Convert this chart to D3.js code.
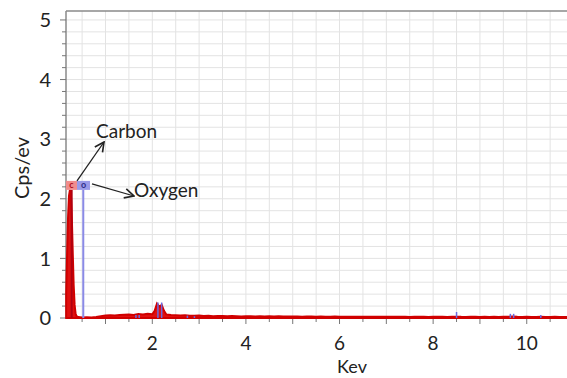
<!DOCTYPE html>
<html>
<head>
<meta charset="utf-8">
<script src="https://cdn.jsdelivr.net/npm/d3@7"></script>
<style>
  body { margin: 0; background: #fff; }
  text { font-family: Lato, "Open Sans", sans-serif; fill: #222; }
</style>
</head>
<body>
<svg width="567" height="378"></svg>
<script>
// spectrum (keV, counts per eV)
const kev = [0.16, 0.18, 0.20, 0.22, 0.24, 0.26, 0.28, 0.30, 0.32, 0.34, 0.36, 0.38, 0.42,
  0.5, 0.6, 0.7, 0.8, 0.9, 1.0, 1.1, 1.2, 1.3, 1.4, 1.5, 1.6, 1.7, 1.8, 1.9, 2.0,
  2.05, 2.1, 2.15, 2.2, 2.25, 2.3, 2.4, 2.5, 2.6, 2.7, 2.8, 2.9, 3.0,
  3.1, 3.2, 3.3, 3.4, 3.5, 3.6, 3.7, 3.8, 3.9, 4.0, 4.1, 4.2, 4.3, 4.4, 4.5, 4.6, 4.7, 4.8, 4.9, 5.0,
  5.1, 5.2, 5.3, 5.4, 5.5, 5.6, 5.7, 5.8, 5.9, 6.0, 6.1, 6.2, 6.3, 6.4, 6.5, 6.6, 6.7, 6.8, 6.9, 7.0,
  7.1, 7.2, 7.3, 7.4, 7.5, 7.6, 7.7, 7.8, 7.9, 8.0, 8.1, 8.2, 8.3, 8.4, 8.5, 8.6, 8.7, 8.8, 8.9, 9.0,
  9.1, 9.2, 9.3, 9.4, 9.5, 9.6, 9.7, 9.8, 9.9, 10.0, 10.1, 10.2, 10.3, 10.4, 10.5, 10.6, 10.7, 10.8, 10.9]
const cps = [0.4, 1.1, 1.7, 2.05, 2.15, 2.1, 1.7, 1.1, 0.55, 0.22, 0.08, 0.03, 0.015,
  0.01, 0.012, 0.01, 0.018, 0.03, 0.04, 0.045, 0.04, 0.05, 0.055, 0.06, 0.052, 0.066, 0.058, 0.07, 0.062,
  0.12, 0.24, 0.19, 0.22, 0.12, 0.06, 0.05, 0.045, 0.04, 0.047, 0.038, 0.036, 0.04,
  0.034, 0.037, 0.03, 0.035, 0.032, 0.028, 0.033, 0.03, 0.027, 0.031, 0.029, 0.026, 0.03, 0.027, 0.029, 0.025, 0.028, 0.026, 0.024, 0.027,
  0.025, 0.023, 0.026, 0.024, 0.022, 0.025, 0.023, 0.021, 0.024, 0.022, 0.02, 0.023, 0.021, 0.022, 0.02, 0.023, 0.021, 0.019, 0.022, 0.02,
  0.021, 0.019, 0.022, 0.02, 0.018, 0.021, 0.019, 0.02, 0.018, 0.021, 0.019, 0.02, 0.018, 0.02, 0.022, 0.019, 0.018, 0.02, 0.019, 0.018,
  0.02, 0.018, 0.019, 0.017, 0.02, 0.022, 0.024, 0.02, 0.018, 0.019, 0.017, 0.018, 0.02, 0.018, 0.017, 0.019, 0.018, 0.017, 0.018]

// thin blue spikes
const spikeKev = [1.65, 1.72, 2.12, 2.2, 2.75, 2.9, 8.5, 9.65, 9.72, 10.3]
const spikeCps = [0.05, 0.05, 0.26, 0.26, 0.04, 0.03, 0.1, 0.07, 0.07, 0.05]

// element markers
const elements = ["C", "O"]
const elementKev = [0.277, 0.525]
const elementNames = ["Carbon", "Oxygen"]

const xTicks = [2, 4, 6, 8, 10]
const yTicks = [0, 1, 2, 3, 4, 5]

const svg = d3.select("svg")
const x = d3.scaleLinear().domain([0.156, 10.86]).range([66, 567])
const y = d3.scaleLinear().domain([0, 5.15]).range([318, 11])

// grid
svg.append("g")
  .selectAll("line")
  .data(d3.range(0.5, 10.9, 0.5)).enter()
  .append("line")
  .attr("x1", d => x(d)).attr("x2", d => x(d))
  .attr("y1", y(5.15)).attr("y2", y(0))
  .attr("stroke", "#e3e3e3")
svg.append("g")
  .selectAll("line")
  .data(d3.range(0.2, 5.1, 0.2)).enter()
  .append("line")
  .attr("x1", 66).attr("x2", 567)
  .attr("y1", d => y(d)).attr("y2", d => y(d))
  .attr("stroke", "#e3e3e3")

// frame
svg.append("line").attr("x1", 66).attr("x2", 66).attr("y1", 11).attr("y2", 318)
  .attr("stroke", "#8a8a8a").attr("stroke-width", 1.5)
svg.append("line").attr("x1", 66).attr("x2", 567).attr("y1", 11).attr("y2", 11)
  .attr("stroke", "#8a8a8a").attr("stroke-width", 1.5)
svg.append("line").attr("x1", 66).attr("x2", 567).attr("y1", 318).attr("y2", 318)
  .attr("stroke", "#999")

// y ticks
svg.append("g")
  .selectAll("line")
  .data(d3.range(0, 5.1, 0.2)).enter()
  .append("line")
  .attr("x1", d => Math.abs(d - Math.round(d)) < 0.01 ? 60 : 62).attr("x2", 66)
  .attr("y1", d => y(d)).attr("y2", d => y(d))
  .attr("stroke", "#777")
svg.append("g")
  .selectAll("text")
  .data(yTicks).enter()
  .append("text")
  .attr("x", 51).attr("y", d => y(d)).attr("dy", "0.36em")
  .attr("text-anchor", "end").attr("font-size", 20)
  .text(d => d)

// x ticks
svg.append("g")
  .selectAll("line")
  .data(d3.range(0.5, 10.9, 0.5)).enter()
  .append("line")
  .attr("x1", d => x(d)).attr("x2", d => x(d))
  .attr("y1", 318).attr("y2", d => d % 1 == 0 ? 324 : 322)
  .attr("stroke", "#777")
svg.append("g")
  .selectAll("text")
  .data(xTicks).enter()
  .append("text")
  .attr("x", d => x(d)).attr("y", 350)
  .attr("text-anchor", "middle").attr("font-size", 19)
  .text(d => d)

svg.append("text").attr("x", 352).attr("y", 373)
  .attr("text-anchor", "middle").attr("font-size", 18).text("Kev")
svg.append("text")
  .attr("transform", "translate(29,168) rotate(-90)")
  .attr("text-anchor", "middle").attr("font-size", 20).text("Cps/ev")

// spectrum
let spec = kev.map((k, i) => ({k: k, c: cps[i]}))
svg.append("path")
  .datum(spec)
  .attr("d", d3.area().x(d => x(d.k)).y0(y(0)).y1(d => y(d.c)))
  .attr("fill", "#e01010")
  .attr("stroke", "#d00000")
  .attr("stroke-width", 2)

svg.append("g")
  .selectAll("line")
  .data(spikeKev.map((k, i) => ({k: k, c: spikeCps[i]}))).enter()
  .append("line")
  .attr("x1", d => x(d.k)).attr("x2", d => x(d.k))
  .attr("y1", y(0)).attr("y2", d => y(d.c))
  .attr("stroke", "#6a6ae0").attr("stroke-width", 1.5)

// element marker lines and boxes
let boxTop = y(2.3), boxH = 9
let colors = {C: {line: "#b00010", box: "#f08c8c", text: "#b01020"},
              O: {line: "#8a8ae6", box: "#9a9ae8", text: "#30308a"}}
svg.append("g")
  .selectAll("line")
  .data(elements).enter()
  .append("line")
  .attr("x1", (d, i) => x(elementKev[i])).attr("x2", (d, i) => x(elementKev[i]))
  .attr("y1", boxTop + boxH).attr("y2", y(0))
  .attr("stroke", d => colors[d].line).attr("stroke-width", 2)

let boxX = [66, 77], boxW = [11, 13]
svg.append("g")
  .selectAll("rect")
  .data(elements).enter()
  .append("rect")
  .attr("x", (d, i) => boxX[i]).attr("y", boxTop)
  .attr("width", (d, i) => boxW[i]).attr("height", boxH)
  .attr("fill", d => colors[d].box)
svg.append("g")
  .selectAll("text")
  .data(elements).enter()
  .append("text")
  .attr("x", (d, i) => boxX[i] + boxW[i] / 2).attr("y", boxTop + 7.5)
  .attr("text-anchor", "middle").attr("font-size", 9).attr("font-weight", "bold")
  .style("fill", d => colors[d].text)
  .text(d => d.toLowerCase())

// annotations
svg.append("defs").append("marker")
  .attr("id", "arr").attr("viewBox", "0 0 10 10").attr("refX", 9).attr("refY", 5)
  .attr("markerWidth", 9).attr("markerHeight", 9).attr("orient", "auto")
  .append("path").attr("d", "M1,1 L9,5 L1,9").attr("fill", "none")
  .attr("stroke", "#222").attr("stroke-width", 1.4)

svg.append("line").attr("x1", 77).attr("y1", boxTop).attr("x2", 104).attr("y2", 142)
  .attr("stroke", "#222").attr("stroke-width", 1.3).attr("marker-end", "url(#arr)")
svg.append("line").attr("x1", 92).attr("y1", boxTop + 3).attr("x2", 134).attr("y2", 196)
  .attr("stroke", "#222").attr("stroke-width", 1.3).attr("marker-end", "url(#arr)")

svg.append("text").attr("x", 96).attr("y", 138).attr("font-size", 19).text(elementNames[0])
svg.append("text").attr("x", 134).attr("y", 197).attr("font-size", 19).text(elementNames[1])
</script>
</body>
</html>
